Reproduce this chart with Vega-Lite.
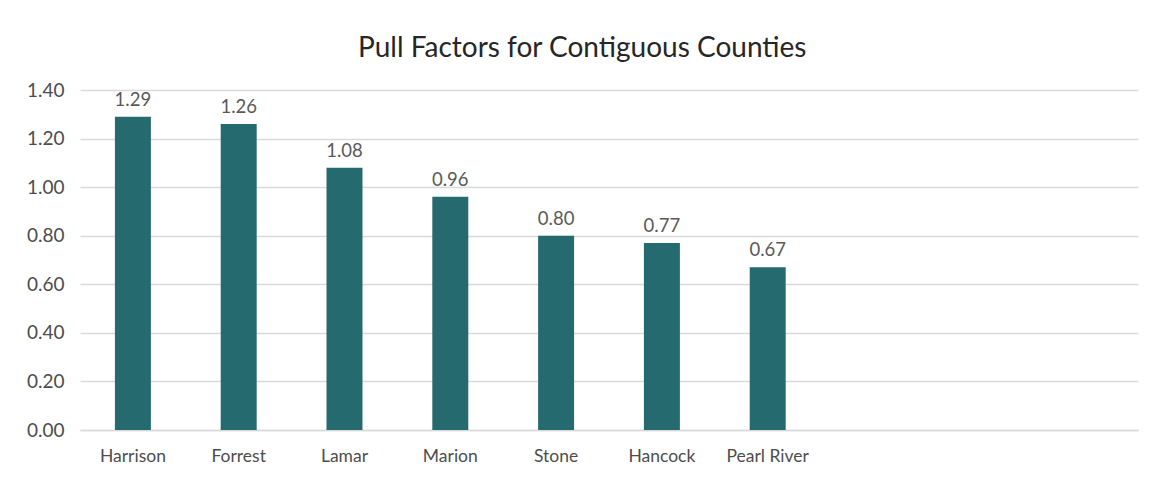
{
  "$schema": "https://vega.github.io/schema/vega-lite/v6.json",
  "width": 1058,
  "height": 340,
  "autosize": {"type": "none"},
  "padding": {"left": 80, "top": 90, "right": 19, "bottom": 52},
  "background": "white",
  "title": {
    "text": "Pull Factors for Contiguous Counties",
    "font": "Lato",
    "fontSize": 28,
    "fontWeight": "normal",
    "color": "#262626",
    "anchor": "middle",
    "frame": "bounds",
    "offset": 18
  },
  "config": {
    "view": {"stroke": null},
    "font": "Lato"
  },
  "data": {
    "values": [
      {"county": "Harrison", "pull": 1.29},
      {"county": "Forrest", "pull": 1.26},
      {"county": "Lamar", "pull": 1.08},
      {"county": "Marion", "pull": 0.96},
      {"county": "Stone", "pull": 0.80},
      {"county": "Hancock", "pull": 0.77},
      {"county": "Pearl River", "pull": 0.67}
    ]
  },
  "encoding": {
    "x": {
      "field": "county",
      "type": "nominal",
      "sort": null,
      "scale": {
        "domain": ["Harrison", "Forrest", "Lamar", "Marion", "Stone", "Hancock", "Pearl River", " ", "  ", "   "],
        "paddingInner": 0.66,
        "paddingOuter": 0.33
      },
      "axis": {
        "title": null,
        "labelAngle": 0,
        "labelFont": "Lato",
        "labelFontSize": 17.5,
        "labelColor": "#4d4d4d",
        "labelPadding": 17,
        "ticks": false,
        "domainColor": "#d9d9d9",
        "domainWidth": 1.5
      }
    },
    "y": {
      "field": "pull",
      "type": "quantitative",
      "scale": {"domain": [0, 1.4], "nice": false},
      "axis": {
        "title": null,
        "values": [0, 0.2, 0.4, 0.6, 0.8, 1.0, 1.2, 1.4],
        "format": ".2f",
        "labelFont": "Lato",
        "labelFontSize": 19,
        "labelColor": "#4d4d4d",
        "labelPadding": 16,
        "ticks": false,
        "domain": false,
        "gridColor": "#d9d9d9",
        "gridWidth": 1.5
      }
    }
  },
  "layer": [
    {
      "mark": {"type": "bar", "color": "#246a6e"}
    },
    {
      "mark": {"type": "text", "baseline": "bottom", "dy": -7, "fontSize": 18.5, "color": "#595959", "font": "Lato"},
      "encoding": {
        "text": {"field": "pull", "type": "quantitative", "format": ".2f"}
      }
    }
  ]
}
